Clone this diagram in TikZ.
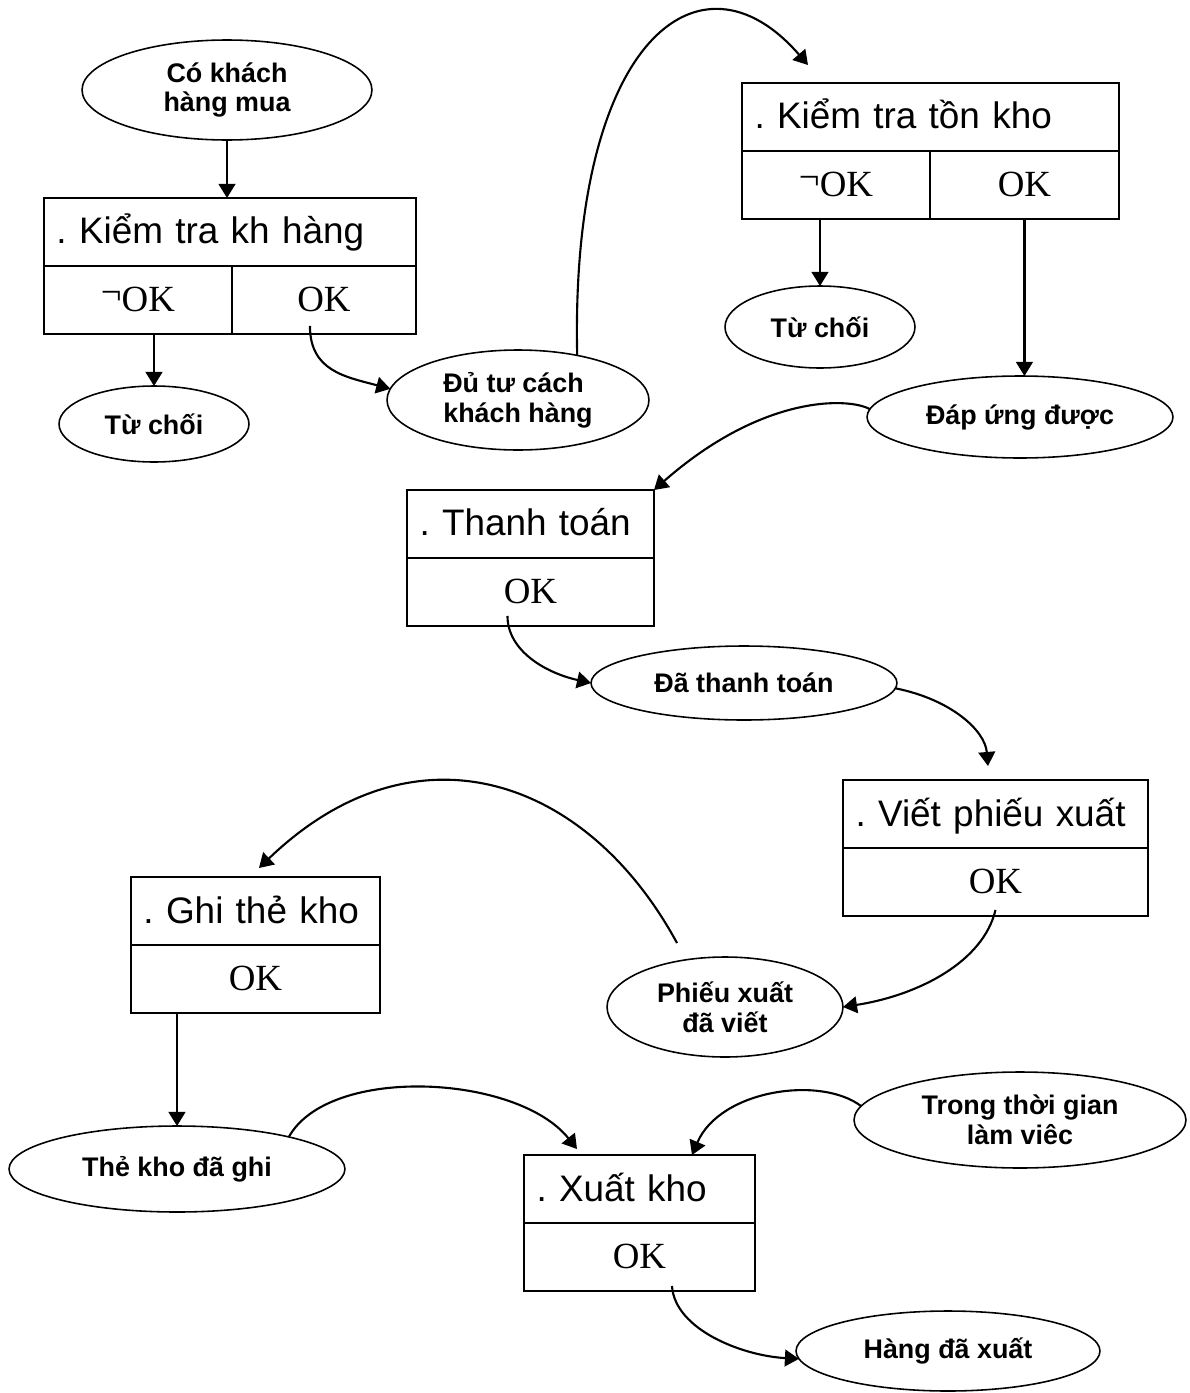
\documentclass[tikz,border=0pt]{standalone}
\usepackage{fontspec}
\setmainfont{Liberation Serif}
\setsansfont{Liberation Sans}
\usetikzlibrary{arrows.meta,shapes.geometric}

\begin{document}
\begin{tikzpicture}[x=0.02cm,y=-0.02cm,
  ev/.style={draw,ellipse,line width=0.9pt,inner sep=0pt,outer sep=0pt,align=center,
    font=\sffamily\bfseries\fontsize{15.3}{17}\selectfont},
  proc/.style={draw,rectangle,line width=1.1pt,anchor=north west,minimum height=1.36cm,
    inner xsep=0.25cm,inner ysep=0pt,outer sep=0pt,text height=0.54cm,text depth=0.06cm,
    align=left,font=\sffamily\frenchspacing\fontsize{21}{25}\selectfont},
  cell/.style={draw,rectangle,line width=1.1pt,anchor=north west,minimum height=1.36cm,
    inner sep=0pt,outer sep=0pt,text height=0.49cm,text depth=0.03cm,
    font=\fontsize{21}{24}\selectfont},
  flow/.style={line width=1.2pt,-{Triangle[length=8pt,width=9.5pt]}}]
  \useasboundingbox (0,0) rectangle (1190,1393);

  \node[ev,minimum width=5.8cm,minimum height=2cm] (C) at (227,90) {Có khách\\hàng mua};

  \node[proc,text width=6.94cm] (KH) at (44,198) {. Kiểm tra kh hàng};
  \node[cell,minimum width=3.76cm] (KHn) at (KH.south west) {\raisebox{0.18em}{¬}OK};
  \node[cell,minimum width=3.68cm] (KHo) at (KHn.north east) {OK};
  \node[ev,minimum width=3.8cm,minimum height=1.52cm] (R1) at (154,424) {Từ chối};
  \node[ev,minimum width=5.24cm,minimum height=2cm,align=left] (D) at (518,400) {Đủ tư cách\\khách hàng};

  \node[proc,text width=7.04cm] (KT) at (742,83) {. Kiểm tra tồn kho};
  \node[cell,minimum width=3.76cm] (KTn) at (KT.south west) {\raisebox{0.18em}{¬}OK};
  \node[cell,minimum width=3.78cm] (KTo) at (KTn.north east) {OK};
  \node[ev,minimum width=3.8cm,minimum height=1.64cm] (R2) at (820,327) {Từ chối};
  \node[ev,minimum width=6.12cm,minimum height=1.64cm] (U) at (1020,417) {Đáp ứng được};

  \node[proc,text width=4.44cm] (TT) at (407,490) {. Thanh toán};
  \node[cell,minimum width=4.94cm] (TTo) at (TT.south west) {OK};
  \node[ev,minimum width=6.12cm,minimum height=1.48cm] (P) at (744,683) {Đã thanh toán};

  \node[proc,text width=5.6cm] (VP) at (843,780) {. Viết phiếu xuất};
  \node[cell,minimum width=6.1cm] (VPo) at (VP.south west) {OK};
  \node[ev,minimum width=4.72cm,minimum height=2cm] (PV) at (725,1007) {Phiếu xuất\\đã viết};

  \node[proc,text width=4.48cm] (GT) at (131,877) {. Ghi thẻ kho};
  \node[cell,minimum width=4.98cm] (GTo) at (GT.south west) {OK};
  \node[ev,minimum width=6.72cm,minimum height=1.72cm] (TK) at (177,1169) {Thẻ kho đã ghi};

  \node[proc,text width=4.12cm] (XK) at (524,1155) {. Xuất kho};
  \node[cell,minimum width=4.62cm] (XKo) at (XK.south west) {OK};
  \node[ev,minimum width=6.64cm,minimum height=1.92cm] (TG) at (1020,1120) {Trong thời gian\\làm viêc};
  \node[ev,minimum width=6.08cm,minimum height=1.6cm] (HX) at (948,1351) {Hàng đã xuất};

  \draw[flow] (C.south) -- (C.south |- KH.north);
  \draw[flow] (R1.north |- KHn.south) -- (R1.north);
  \draw[flow] ([xshift=-0.28cm,yshift=0.16cm]KHo.south) .. controls +(0,45) and +(-45,-12) .. (D.175);
  \draw[flow] (D.37) .. controls +(-7,-315) and +(-108,-125) .. ([xshift=1.32cm,yshift=0.36cm]KT.north west);
  \draw[flow] (R2.north |- KTn.south) -- (R2.north);
  \draw[flow] (KTo.south) -- (KTo.south |- U.north);
  \draw[flow] (U.177) .. controls +(-22,-12) and +(108,-95) .. (TT.north east);
  \draw[flow] ([xshift=-0.46cm,yshift=0.2cm]TTo.south) .. controls +(0,35) and +(-45,-10) .. (P.west);
  \draw[flow] (P.-2) .. controls +(55,11) and +(-3,-36) .. ([xshift=-0.15cm,yshift=0.28cm]VP.north);
  \draw[flow] ([yshift=0.12cm]VPo.south) .. controls +(-12,51) and +(77,-12) .. (PV.east);
  \draw[flow] ([xshift=-0.96cm,yshift=0.28cm]PV.north) .. controls +(-90,-166) and +(156,-150) .. ([xshift=0.07cm,yshift=0.18cm]GT.north);
  \draw[flow] (TK.north |- GTo.south) -- (TK.north);
  \draw[flow] (TK.16) .. controls +(40,-72) and +(-60,-75) .. ([xshift=1.06cm,yshift=0.12cm]XK.north west);
  \draw[flow] (TG.175) .. controls +(-41,-31) and +(28,-65) .. ([xshift=1.05cm]XK.north);
  \draw[flow] ([xshift=0.65cm,yshift=0.1cm]XKo.south) .. controls +(3,44) and +(-56,-3) .. (HX.183);
\end{tikzpicture}
\end{document}
